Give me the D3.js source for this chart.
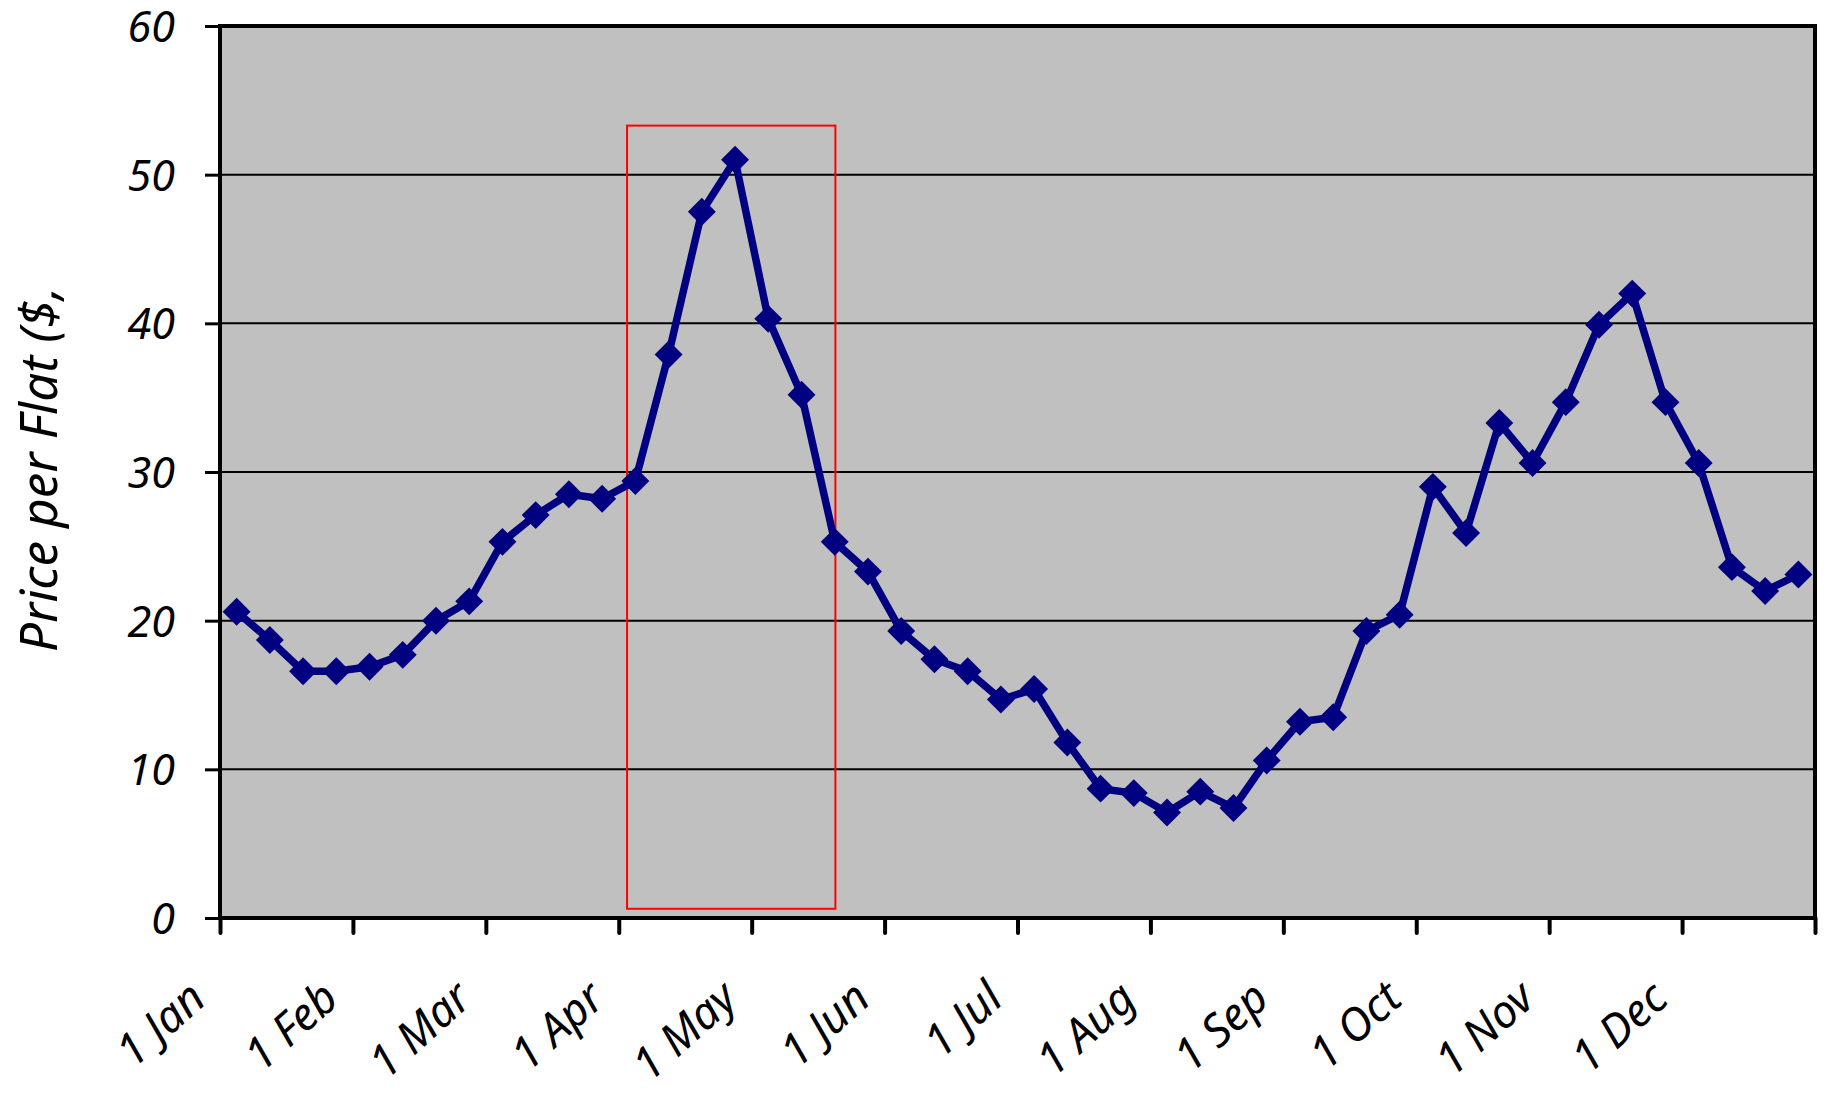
<!DOCTYPE html>
<html>
<head>
<meta charset="utf-8">
<script src="https://cdn.jsdelivr.net/npm/d3@7"></script>
<style>
  body { margin: 0; background: #fff; }
  svg text { font-family: "Comic Sans MS", "Noto Sans", sans-serif; font-style: italic; fill: #000; }
</style>
</head>
<body>
<div id="chart"></div>
<script>
// data: 4 readings per month
const months = ["1 Jan", "1 Feb", "1 Mar", "1 Apr", "1 May", "1 Jun",
                "1 Jul", "1 Aug", "1 Sep", "1 Oct", "1 Nov", "1 Dec"];
const prices = [20.6, 18.7, 16.6, 16.6, 16.9, 17.7, 20.0, 21.3,
                25.3, 27.1, 28.5, 28.2, 29.4, 37.9, 47.5, 51.0,
                40.3, 35.2, 25.3, 23.3, 19.3, 17.4, 16.6, 14.7,
                15.4, 11.8, 8.7, 8.4, 7.1, 8.5, 7.4, 10.6,
                13.2, 13.5, 19.3, 20.4, 29.0, 25.9, 33.3, 30.6,
                34.7, 39.9, 42.0, 34.7, 30.6, 23.6, 22.0, 23.1];
const yTicks = [0, 10, 20, 30, 40, 50, 60];
// highlighted period (in weeks) and its price span
const highlightWeeks = [12.25, 18.52];
const highlightPrices = [0.62, 53.3];

const W = 1830, H = 1093;
const margin = { top: 26, right: 15, bottom: 175, left: 220 };
const width = W - margin.left - margin.right;
const height = H - margin.top - margin.bottom;

const svg = d3.select("#chart").append("svg")
    .attr("width", W).attr("height", H);
const g = svg.append("g")
    .attr("transform", `translate(${margin.left},${margin.top})`);

// scales
const x = d3.scaleLinear().domain([0, prices.length]).range([0, width]);
const y = d3.scaleLinear().domain([0, 60]).range([height, 0]);

// plot background
g.append("rect")
    .attr("width", width).attr("height", height)
    .attr("fill", "#c0c0c0");

// grid
g.append("g")
    .selectAll("line")
    .data(yTicks.slice(1, -1))
    .join("line")
    .attr("x1", 0).attr("x2", width)
    .attr("y1", d => y(d)).attr("y2", d => y(d))
    .attr("stroke", "#000").attr("stroke-width", 2);

// y axis
const yAxis = g.append("g")
    .call(d3.axisLeft(y).tickValues(yTicks).tickSize(15).tickPadding(30));
yAxis.select(".domain").remove();
yAxis.selectAll("line").attr("stroke", "#000").attr("stroke-width", 3);
yAxis.selectAll("text")
    .attr("font-size", 43)
    .attr("dy", "0.36em");

// x axis: month ticks every 4 weeks
const monthTicks = d3.range(0, prices.length + 1, 4);
const xAxis = g.append("g")
    .attr("transform", `translate(0,${height})`)
    .call(d3.axisBottom(x).tickValues(monthTicks).tickSize(15).tickFormat(""));
xAxis.select(".domain").remove();
xAxis.selectAll("line")
    .attr("stroke", "#000").attr("stroke-width", 4)
    .attr("stroke-linecap", "round");

g.append("g")
    .selectAll("text")
    .data(months)
    .join("text")
    .attr("transform", (d, i) => `translate(${x(i * 4) - 12},${height + 84}) rotate(-42)`)
    .attr("text-anchor", "end")
    .attr("font-size", 45)
    .text(d => d);

// frame
g.append("rect")
    .attr("width", width).attr("height", height)
    .attr("fill", "none")
    .attr("stroke", "#000").attr("stroke-width", 4);

// highlight box
g.append("rect")
    .attr("x", x(highlightWeeks[0]))
    .attr("y", y(highlightPrices[1]))
    .attr("width", x(highlightWeeks[1]) - x(highlightWeeks[0]))
    .attr("height", y(highlightPrices[0]) - y(highlightPrices[1]))
    .attr("fill", "none")
    .attr("stroke", "#ff0000").attr("stroke-width", 2);

// line + diamonds
const line = d3.line()
    .x((d, i) => x(i + 0.5))
    .y(d => y(d));

g.append("path")
    .datum(prices)
    .attr("d", line)
    .attr("fill", "none")
    .attr("stroke", "#000080")
    .attr("stroke-width", 7.5)
    .attr("stroke-linejoin", "round");

const diamond = d3.symbol(d3.symbolSquare, 390);
g.append("g")
    .selectAll("path")
    .data(prices)
    .join("path")
    .attr("d", diamond)
    .attr("transform", (d, i) => `translate(${x(i + 0.5)},${y(d)}) rotate(45)`)
    .attr("fill", "#000080");

// y title (clipped in the original)
svg.append("text")
    .attr("transform", "translate(57,652) rotate(-90)")
    .attr("font-size", 51)
    .text("Price per Flat ($,");
</script>
</body>
</html>
